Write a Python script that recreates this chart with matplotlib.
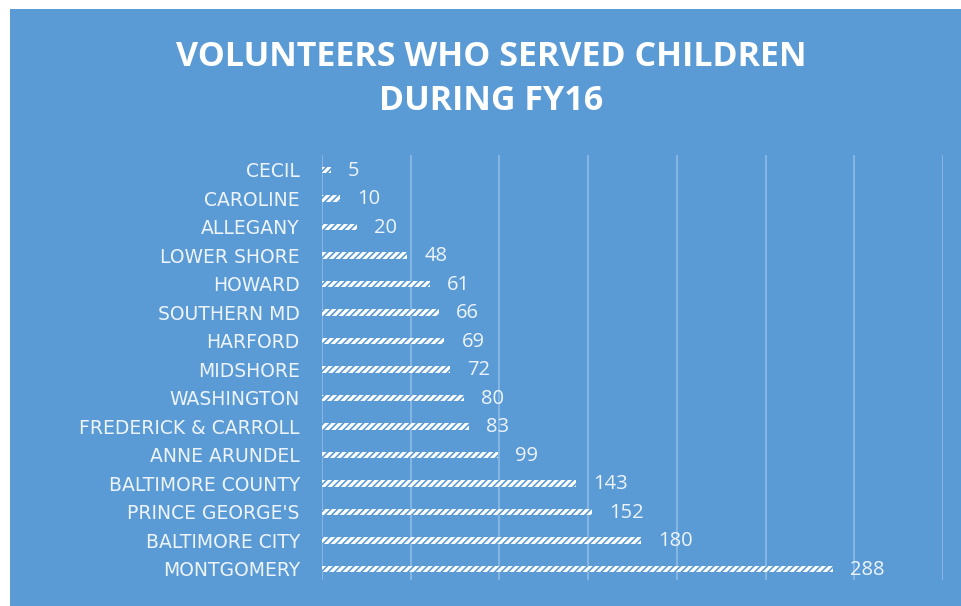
import matplotlib
matplotlib.use("Agg")
import matplotlib.pyplot as plt
from matplotlib.patches import Rectangle

categories = ["CECIL", "CAROLINE", "ALLEGANY", "LOWER SHORE", "HOWARD",
              "SOUTHERN MD", "HARFORD", "MIDSHORE", "WASHINGTON",
              "FREDERICK & CARROLL", "ANNE ARUNDEL", "BALTIMORE COUNTY",
              "PRINCE GEORGE'S", "BALTIMORE CITY", "MONTGOMERY"]
values = [5, 10, 20, 48, 61, 66, 69, 72, 80, 83, 99, 143, 152, 180, 288]
title = "VOLUNTEERS WHO SERVED CHILDREN\nDURING FY16"

BG = "#5b9bd5"
GRID = "#8ab8e4"
plt.rcParams['font.family'] = ['Open Sans', 'DejaVu Sans']
plt.rcParams['hatch.linewidth'] = 1.2

W, H = 962, 606
fig = plt.figure(figsize=(W / 100, H / 100), dpi=100)
fig.patch.set_facecolor("white")
fig.patches.append(Rectangle((10 / W, 0), 1 - 10 / W, 1 - 9 / H,
                             transform=fig.transFigure, facecolor=BG,
                             edgecolor="none", zorder=-5))

ax = fig.add_axes([322 / W, 26 / H, 621 / W, 425 / H])
ax.set_facecolor("none")
ax.set_zorder(2)

n = len(categories)
ypos = [n - 1 - i for i in range(n)]
ax.barh(ypos, values, height=0.22, facecolor="white", edgecolor=BG,
        hatch="/////", linewidth=0, zorder=3)

for y, v in zip(ypos, values):
    ax.annotate(str(v), xy=(v, y), xytext=(17, -1), textcoords="offset pixels",
                ha="left", va="center", color="#eef4fb", fontsize=14.5)

ax.set_xlim(0, 350)
ax.set_ylim(-0.386, n - 1 + 0.526)
ax.set_xticks(range(0, 351, 50))
ax.grid(axis="x", color=GRID, linewidth=1.3, zorder=1)
ax.set_yticks(ypos)
ax.set_yticklabels(categories, color="#eef4fb", fontsize=13.5,
                   family=['DejaVu Sans'])
ax.tick_params(axis="y", length=0, pad=16)
ax.tick_params(axis="x", length=0, labelbottom=False)
for s in ax.spines.values():
    s.set_visible(False)

fig.text(491 / W, 1 - 79 / H, title, ha="center", va="center",
         color="white", fontsize=24.5, fontweight="bold", linespacing=1.4,
         zorder=5)

fig.savefig("out.png", dpi=100, facecolor=fig.get_facecolor())
